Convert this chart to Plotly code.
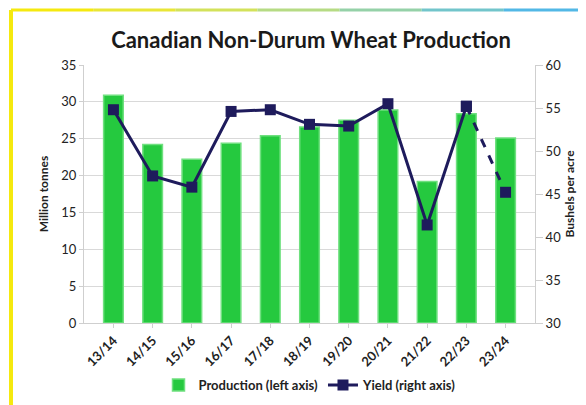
import plotly.graph_objects as go

seasons = ["13/14", "14/15", "15/16", "16/17", "17/18", "18/19",
           "19/20", "20/21", "21/22", "22/23", "23/24"]
production = [30.9, 24.2, 22.2, 24.4, 25.4, 26.6, 27.5, 28.9, 19.2, 28.4, 25.1]
yield_bpa = [54.8, 47.1, 45.8, 54.6, 54.8, 53.1, 52.9, 55.5, 41.4, 55.2, 45.2]

left_ticks = [0, 5, 10, 15, 20, 25, 30, 35]
right_ticks = [30, 35, 40, 45, 50, 55, 60]

navy = "#1e1b5c"
green = "#25c93f"
font_family = "Lato, 'Open Sans', sans-serif"

# the page body has an 8px margin, so the figure is sized to fit the window
W, H = 578, 397
L, R, T, B = 76, 51, 57, 82
pw, ph = W - L - R, H - T - B

fig = go.Figure()

fig.add_trace(go.Bar(
    x=seasons, y=production, name="<b>Production (left axis)</b>",
    marker=dict(color=green, line=dict(color="#6fe07f", width=1.5)),
    width=0.5, yaxis="y"
))

# solid yield line up to 22/23
fig.add_trace(go.Scatter(
    x=seasons[:-1], y=yield_bpa[:-1], name="<b>Yield (right axis)</b>",
    mode="lines+markers", yaxis="y2",
    line=dict(color=navy, width=3),
    marker=dict(symbol="square", size=11, color=navy)
))
# dashed last segment (forecast)
fig.add_trace(go.Scatter(
    x=seasons[-2:], y=yield_bpa[-2:], showlegend=False,
    mode="lines+markers", yaxis="y2",
    line=dict(color=navy, width=3, dash="dash"),
    marker=dict(symbol="square", size=11, color=navy)
))

axis_common = dict(showline=True, linecolor="#cfcfcf", ticks="outside",
                   tickcolor="#cfcfcf", zeroline=False,
                   automargin=False, tickprefix="<b>", ticksuffix="</b>",
                   tickfont=dict(size=13, color="#222222"))

fig.update_layout(
    width=W, height=H,
    margin=dict(l=L, r=R, t=T, b=B),
    paper_bgcolor="white", plot_bgcolor="white",
    font=dict(family=font_family, size=12, color="#222222"),
    title=dict(text="<b>Canadian Non-Durum Wheat Production</b>",
               x=303 / W, xanchor="center", y=1 - 32 / H, yanchor="middle",
               font=dict(size=22, color="#1a1a1a")),
    xaxis=dict(tickangle=-45, showgrid=False, ticklen=4, **axis_common),
    yaxis=dict(range=[0, 35], tickvals=left_ticks, ticklen=4,
               title=dict(text="<b>Million tonnes</b>", font=dict(size=12), standoff=10),
               showgrid=True, gridcolor="#d9d9d9", **axis_common),
    yaxis2=dict(range=[30, 60], tickvals=right_ticks, overlaying="y", side="right",
                ticklen=7,
                title=dict(text="<b>Bushels per acre</b>", font=dict(size=12), standoff=5),
                showgrid=False, **axis_common),
    legend=dict(orientation="h", x=302 / W, xref="container", xanchor="center",
                y=1 - 377 / H, yref="container", yanchor="middle",
                font=dict(size=13), itemwidth=30),
    bargap=0.5,
)

# frame: yellow left edge and gradient top edge (converted to paper coords)
def px_x(x):
    return (x - L) / pw


def px_y(y):
    return (H - B - y) / ph


stops = ["#f5e90f", "#e9e636", "#d3e25a", "#b6db84", "#95d1a8", "#72c5cb", "#52b8e6"]
n = len(stops)
xa, xb = 3, W
for i, c in enumerate(stops):
    fig.add_shape(type="line", xref="paper", yref="paper",
                  x0=px_x(xa + (xb - xa) * i / n), x1=px_x(xa + (xb - xa) * (i + 1) / n),
                  y0=px_y(2), y1=px_y(2),
                  line=dict(color=c, width=3))
fig.add_shape(type="line", xref="paper", yref="paper",
              x0=px_x(3), x1=px_x(3), y0=px_y(2), y1=px_y(H),
              line=dict(color="#f5e90f", width=4))

fig.write_html("out.html")
